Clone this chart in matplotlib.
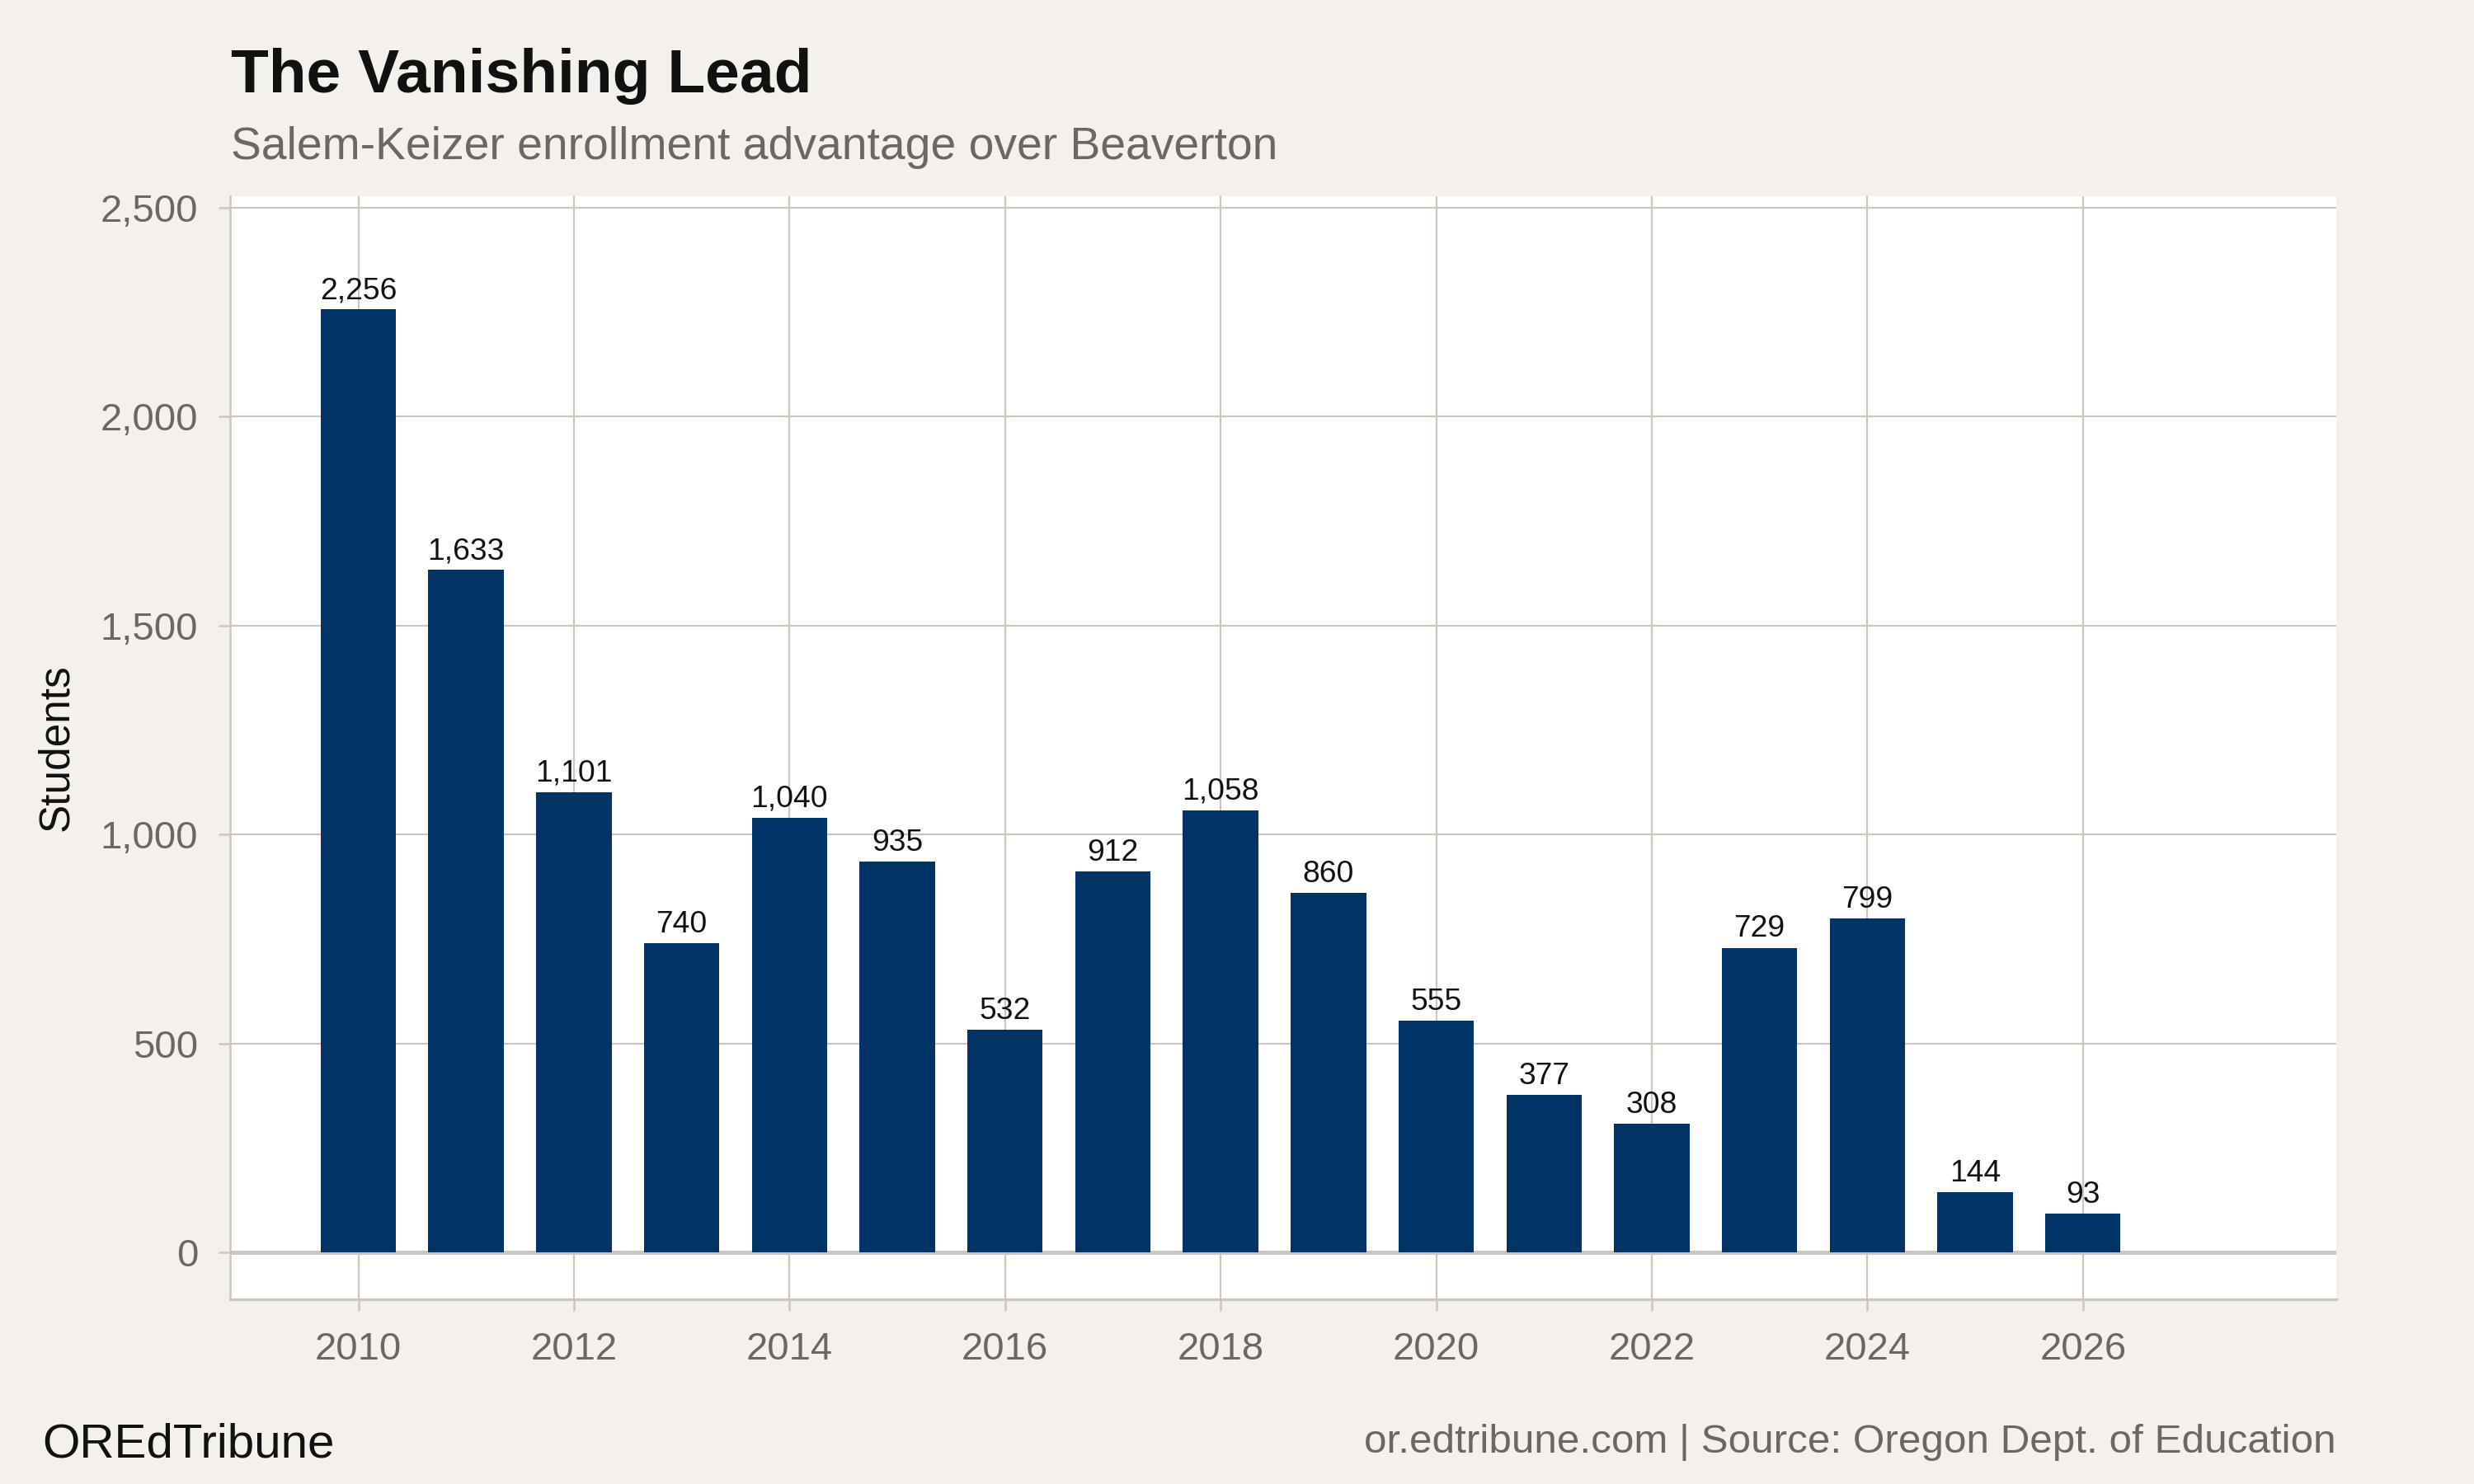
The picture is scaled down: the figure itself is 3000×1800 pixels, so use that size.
import matplotlib.pyplot as plt
import numpy as np

plt.rcParams['font.family'] = ['Liberation Sans', 'DejaVu Sans']

# enrollment gap, Salem-Keizer minus Beaverton
years = [2010, 2011, 2012, 2013, 2014, 2015, 2016, 2017, 2018,
         2019, 2020, 2021, 2022, 2023, 2024, 2025, 2026]
lead = [2256, 1633, 1101, 740, 1040, 935, 532, 912, 1058,
        860, 555, 377, 308, 729, 799, 144, 93]

x_ticks = [2010, 2012, 2014, 2016, 2018, 2020, 2022, 2024, 2026]
y_ticks = [0, 500, 1000, 1500, 2000, 2500]

bg = '#f4f1ec'
grid_col = '#ccc7be'
bar_col = '#003366'
gray_txt = '#6b6861'

fig = plt.figure(figsize=(15, 9), dpi=200, facecolor=bg)
ax = fig.add_axes([0.093, 0.1245, 0.8513, 0.7433])
ax.set_facecolor('white')

bars = ax.bar(years, lead, width=0.7, color=bar_col, zorder=3)

for yr, v in zip(years, lead):
    ax.annotate(f'{v:,}', (yr, v), xytext=(0, 4.7), textcoords='offset points',
                ha='center', va='baseline', fontsize=13.4, color='#111111', zorder=4)

ax.axhline(0, color=grid_col, lw=1.8, zorder=2)

ax.set_xlim(2008.81, 2028.35)
ax.set_ylim(-112, 2527)
ax.set_xticks(x_ticks)
ax.set_yticks(y_ticks)
ax.set_yticklabels([f'{t:,}' for t in y_ticks])

ax.grid(True, color=grid_col, lw=0.8, zorder=0)
ax.set_axisbelow(True)

for side in ['top', 'right']:
    ax.spines[side].set_visible(False)
ax.spines['left'].set_color(grid_col)
ax.spines['left'].set_linewidth(0.9)
ax.spines['bottom'].set_color(grid_col)
ax.spines['bottom'].set_linewidth(1.2)

ax.tick_params(axis='both', colors=grid_col, labelcolor=gray_txt,
               labelsize=17, length=5, width=0.9)
ax.tick_params(axis='x', pad=9)
ax.tick_params(axis='y', pad=9)

fig.text(0.023, 0.1245 + 0.7433 / 2, 'Students', rotation=90, ha='center',
         va='center', fontsize=18.5, color='#111111')

fig.text(0.0933, 0.9378, 'The Vanishing Lead', fontsize=27, fontweight='bold',
         color='#111111', ha='left', va='baseline')
fig.text(0.0933, 0.893, 'Salem-Keizer enrollment advantage over Beaverton',
         fontsize=19.9, color=gray_txt, ha='left', va='baseline')

fig.text(0.017, 0.0183, 'OREdTribune', fontsize=21, color='#111111',
         ha='left', va='baseline')
fig.text(0.9443, 0.0211, 'or.edtribune.com | Source: Oregon Dept. of Education',
         fontsize=17.8, color=gray_txt, ha='right', va='baseline')

fig.savefig('out.png', dpi=200, facecolor=bg)
